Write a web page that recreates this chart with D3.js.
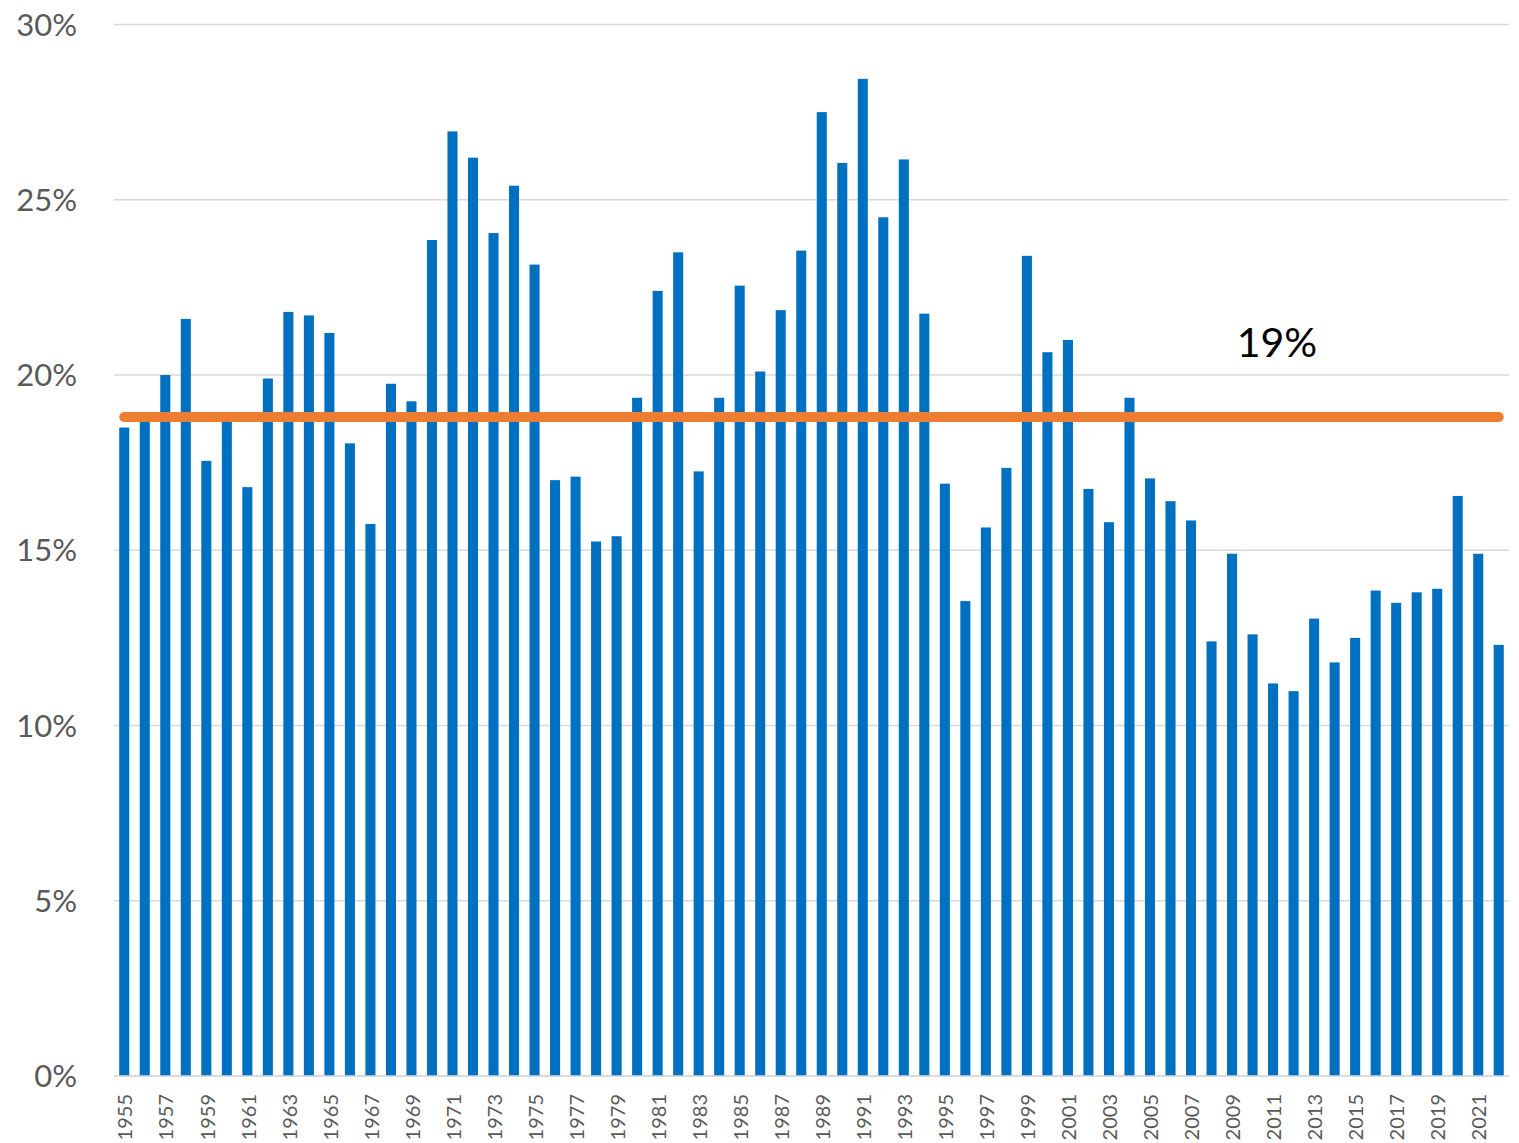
<!DOCTYPE html>
<html>
<head>
<meta charset="utf-8">
<script src="https://cdn.jsdelivr.net/npm/d3@7"></script>
<style>
  html, body { margin: 0; padding: 0; background: #fff; }
  svg { display: block; }
</style>
</head>
<body>
<svg id="chart" width="1519" height="1143"></svg>
<script>
const years = d3.range(1955, 2023).map(String);
const values = [
  18.5, 18.75, 20.0, 21.6, 17.55, 18.75, 16.8, 19.9, 21.8, 21.7,
  21.2, 18.05, 15.75, 19.75, 19.25, 23.85, 26.95, 26.2, 24.05, 25.4,
  23.15, 17.0, 17.1, 15.25, 15.4, 19.35, 22.4, 23.5, 17.25, 19.35,
  22.55, 20.1, 21.85, 23.55, 27.5, 26.05, 28.45, 24.5, 26.15, 21.75,
  16.9, 13.55, 15.65, 17.35, 23.4, 20.65, 21.0, 16.75, 15.8, 19.35,
  17.05, 16.4, 15.85, 12.4, 14.9, 12.6, 11.2, 10.98, 13.05, 11.8,
  12.5, 13.85, 13.5, 13.8, 13.9, 16.55, 14.9, 12.3
];
const yTicks = [0, 5, 10, 15, 20, 25, 30];
const xTickLabels = years.filter((d, i) => i % 2 === 0);
const averageValue = 18.8;
const averageLabel = "19%";

const svg = d3.select("#chart");
const mLeft = 114, mRight = 1509, mTop = 24.5, mBottom = 1076;

const x = d3.scaleBand().domain(years).range([mLeft, mRight]).paddingInner(0.51).paddingOuter(0.255);
const y = d3.scaleLinear().domain([0, 30]).range([mBottom, mTop]);

const font = "Lato, 'Liberation Sans', sans-serif";

// gridlines
svg.append("g").selectAll("line").data(yTicks).join("line")
  .attr("x1", mLeft).attr("x2", mRight)
  .attr("y1", d => y(d)).attr("y2", d => y(d))
  .attr("stroke", "#D9D9D9").attr("stroke-width", 1.5);

// y labels
svg.append("g").selectAll("text").data(yTicks).join("text")
  .attr("x", 77).attr("y", d => y(d))
  .attr("dy", "0.36em")
  .attr("text-anchor", "end")
  .attr("font-family", font).attr("font-size", 31)
  .attr("fill", "#595959")
  .text(d => d + "%");

// bars
svg.append("g").selectAll("rect").data(values).join("rect")
  .attr("x", (d, i) => x(years[i]))
  .attr("width", x.bandwidth())
  .attr("y", d => y(d))
  .attr("height", d => y(0) - y(d))
  .attr("fill", "#0070C0");

// baseline
svg.append("line")
  .attr("x1", mLeft).attr("x2", mRight)
  .attr("y1", y(0)).attr("y2", y(0))
  .attr("stroke", "#D9D9D9").attr("stroke-width", 1.5);

// average line
const bw = x.bandwidth();
svg.append("line")
  .attr("x1", x(years[0]) + bw / 2)
  .attr("x2", x(years[years.length - 1]) + bw / 2)
  .attr("y1", y(averageValue)).attr("y2", y(averageValue))
  .attr("stroke", "#ED7D31").attr("stroke-width", 10)
  .attr("stroke-linecap", "round");

svg.append("text")
  .attr("x", 1277).attr("y", 357)
  .attr("text-anchor", "middle")
  .attr("font-family", font).attr("font-size", 41)
  .attr("fill", "#000")
  .text(averageLabel);

// x labels
svg.append("g").selectAll("text").data(xTickLabels).join("text")
  .attr("transform", d => `translate(${x(d) + bw / 2 + 1},1094) rotate(-90)`)
  .attr("text-anchor", "end")
  .attr("dy", "0.36em")
  .attr("font-family", font).attr("font-size", 20)
  .attr("fill", "#595959")
  .text(d => d);
</script>
</body>
</html>
